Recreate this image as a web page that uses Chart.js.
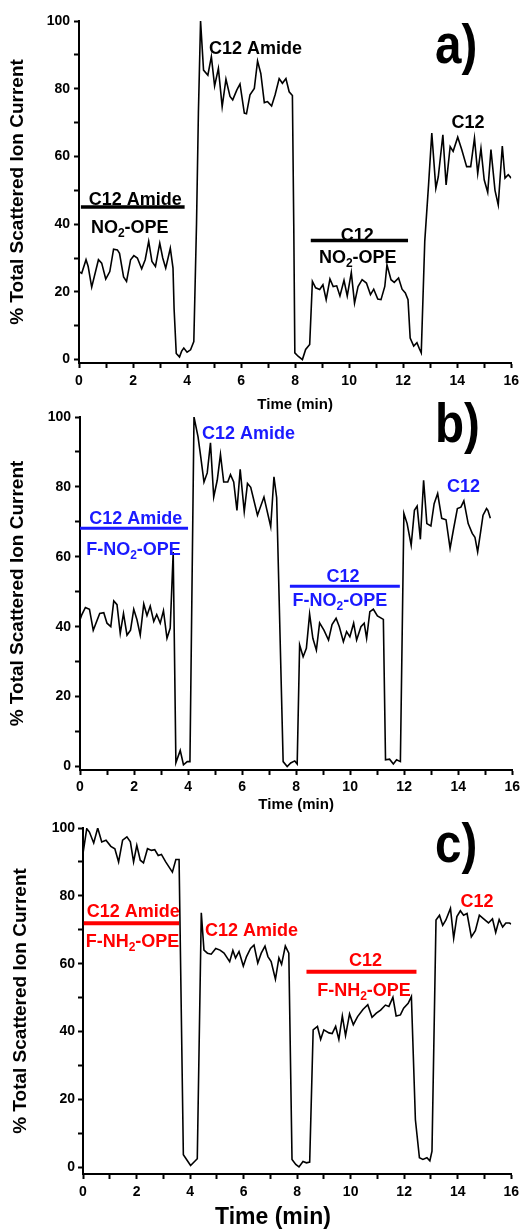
<!DOCTYPE html>
<html lang="en">
<head>
<meta charset="UTF-8">
<title>% Total Scattered Ion Current vs Time</title>
<script src="https://cdn.jsdelivr.net/npm/chart.js@4.4.1/dist/chart.umd.min.js"></script>
<style>
  html, body { margin: 0; padding: 0; background: #fff; }
  #page { position: relative; width: 524px; height: 1230px; overflow: hidden; }
  #page canvas { position: absolute; left: 0; }
</style>
</head>
<body>
<div id="page">
  <canvas id="chartA"></canvas>
  <canvas id="chartB"></canvas>
  <canvas id="chartC"></canvas>
</div>

<script>
// ---- values: time (min) / % total scattered ion current ----
var timeA = [0, 0.10, 0.26, 0.34, 0.47, 0.72, 0.84, 0.99, 1.14, 1.28, 1.42, 1.50, 1.65, 1.76, 1.91, 2.03, 2.16, 2.32,
  2.45, 2.58, 2.70, 2.83, 2.99, 3.10, 3.21, 3.38, 3.48, 3.52, 3.60, 3.72, 3.80, 3.88, 4.00, 4.13, 4.25, 4.35, 4.42,
  4.50, 4.61, 4.77, 4.90, 5.02, 5.16, 5.30, 5.44, 5.59, 5.69, 5.84, 5.96, 6.12, 6.20, 6.33, 6.49, 6.61, 6.73, 6.86,
  6.98, 7.13, 7.26, 7.41, 7.53, 7.66, 7.78, 7.90, 7.95, 7.99, 8.11, 8.27, 8.39, 8.54, 8.64, 8.76, 8.91, 9.03, 9.15,
  9.29, 9.41, 9.54, 9.66, 9.81, 9.93, 10.08, 10.20, 10.33, 10.48, 10.64, 10.79, 10.91, 11.06, 11.18, 11.32, 11.40,
  11.55, 11.67, 11.83, 11.96, 12.08, 12.18, 12.26, 12.39, 12.51, 12.60, 12.67, 12.80, 12.94, 13.06, 13.21, 13.30,
  13.47, 13.59, 13.74, 13.85, 14.02, 14.17, 14.35, 14.50, 14.64, 14.76, 14.88, 15.00, 15.13, 15.25, 15.40, 15.52,
  15.67, 15.77, 15.89, 16.00];
var signalA = [26.0, 25.5, 29.5, 27.5, 21.4, 29.5, 28.5, 23.8, 26.0, 32.6, 32.4, 31.4, 24.4, 23.1, 29.5, 30.7, 30.0, 26.8,
  29.5, 34.9, 29.0, 27.5, 34.4, 30.0, 27.0, 32.9, 27.0, 15.0, 1.8, 0.8, 2.5, 3.4, 2.2, 2.9, 5.3, 40.0, 72.8,
  100, 85.5, 84.0, 89.5, 80.8, 86.0, 74.7, 82.8, 77.7, 76.7, 79.6, 81.4, 72.8, 72.6, 78.2, 80.1, 88.2, 84.5, 75.9,
  76.2, 74.9, 78.2, 83.0, 81.6, 83.0, 79.1, 78.0, 40.0, 2.0, 1.0, 0.0, 3.0, 4.5, 23.1, 21.2, 20.7, 22.1, 17.7,
  23.8, 21.6, 21.8, 18.8, 23.4, 18.8, 25.7, 16.7, 21.6, 23.6, 22.6, 19.2, 20.8, 17.9, 17.7, 21.6, 28.0,
  23.6, 22.8, 24.1, 20.8, 19.7, 17.7, 6.4, 4.0, 5.0, 3.2, 2.0, 35.0, 51.6, 66.9, 50.6, 54.0,
  66.4, 51.6, 62.9, 61.5, 65.7, 62.0, 57.0, 57.0, 65.4, 55.0, 62.4, 53.1, 49.4, 62.0, 50.0, 45.7,
  63.1, 53.6, 54.6, 53.6];

var timeB = [0, 0.06, 0.20, 0.35, 0.49, 0.73, 0.88, 1.00, 1.14, 1.25, 1.37, 1.49, 1.61, 1.74, 1.87, 1.99, 2.11, 2.23,
  2.36, 2.48, 2.60, 2.73, 2.84, 2.97, 3.09, 3.22, 3.34, 3.45, 3.55, 3.71, 3.83, 3.97, 4.07, 4.22, 4.37, 4.47, 4.59,
  4.71, 4.83, 4.95, 5.08, 5.20, 5.32, 5.47, 5.57, 5.69, 5.81, 5.93, 6.08, 6.20, 6.32, 6.57, 6.81, 7.06, 7.18, 7.28,
  7.52, 7.67, 7.80, 7.95, 8.04, 8.13, 8.26, 8.38, 8.50, 8.62, 8.75, 8.87, 9.03, 9.20, 9.33, 9.48, 9.60, 9.75, 9.87,
  9.99, 10.13, 10.24, 10.40, 10.52, 10.61, 10.73, 10.86, 11.01, 11.23, 11.31, 11.46, 11.60, 11.72, 11.86, 11.99,
  12.11, 12.26, 12.38, 12.48, 12.60, 12.72, 12.84, 12.99, 13.11, 13.24, 13.39, 13.55, 13.70, 13.82, 13.97, 14.10,
  14.21, 14.37, 14.52, 14.62, 14.72, 14.84, 14.92, 15.05, 15.10, 15.19];
var signalB = [42.0, 43.3, 45.5, 45.0, 39.0, 43.8, 44.0, 41.0, 40.0, 47.4, 46.3, 38.1, 43.8, 37.6, 39.0, 45.0, 42.0, 37.6,
  46.5, 43.2, 45.9, 41.5, 43.5, 41.0, 44.6, 36.7, 39.6, 61.4, 1.1, 4.6, 0.5, 1.4, 1.4, 100, 94.3, 88.6, 81.4,
  84.0, 92.6, 77.1, 81.9, 89.3, 81.4, 81.4, 83.5, 81.4, 73.3, 85.0, 72.9, 81.0, 79.9, 71.9, 77.1, 68.6, 82.9, 76.9,
  1.4, 0.0, 1.0, 1.6, 0.7, 34.8, 31.4, 33.8, 43.6, 36.7, 33.3, 41.1, 39.0, 36.2, 40.6, 42.4, 40.0, 35.7, 38.6,
  37.1, 41.0, 36.2, 40.0, 41.0, 36.7, 44.3, 45.0, 43.1, 42.1, 1.9, 2.1, 0.7, 1.9, 1.4, 72.4,
  69.5, 63.3, 73.3, 74.5, 65.0, 81.9, 69.5, 68.8, 75.2, 78.1, 71.0, 70.6, 62.4, 67.6, 73.8, 74.2,
  76.0, 69.5, 66.7, 65.6, 61.4, 67.6, 71.9, 73.8, 73.3, 71.0];

var timeC = [0, 0.14, 0.24, 0.40, 0.55, 0.70, 0.86, 1.04, 1.19, 1.33, 1.48, 1.64, 1.77, 1.89, 2.01, 2.14, 2.26, 2.41,
  2.56, 2.68, 2.81, 2.93, 3.09, 3.34, 3.47, 3.59, 3.75, 4.02, 4.27, 4.42, 4.52, 4.65, 4.79, 4.96, 5.12, 5.27, 5.48,
  5.60, 5.70, 5.83, 5.99, 6.11, 6.26, 6.39, 6.53, 6.66, 6.80, 6.91, 7.03, 7.19, 7.32, 7.42, 7.56, 7.69, 7.81, 7.95,
  8.07, 8.22, 8.35, 8.47, 8.60, 8.76, 8.88, 9.00, 9.19, 9.31, 9.44, 9.56, 9.69, 9.81, 9.96, 10.10, 10.26, 10.46,
  10.64, 10.80, 10.96, 11.12, 11.30, 11.43, 11.58, 11.70, 11.86, 11.98, 12.15, 12.27, 12.42, 12.57, 12.70, 12.85,
  12.96, 13.04, 13.19, 13.32, 13.44, 13.56, 13.73, 13.85, 13.97, 14.10, 14.22, 14.35, 14.51, 14.66, 14.81, 14.97,
  15.15, 15.30, 15.42, 15.55, 15.68, 15.80, 15.93, 16.00];
var signalC = [92.5, 99.8, 98.8, 95.6, 100, 95.9, 96.4, 94.6, 93.9, 90.0, 96.4, 97.4, 95.9, 90.0, 94.9, 90.5, 89.7, 93.9,
  93.4, 93.6, 91.9, 92.2, 90.0, 87.0, 90.7, 90.7, 3.7, 0.5, 2.5, 75.0, 64.0, 63.1, 62.8, 64.5, 64.0, 63.1, 60.6,
  63.9, 61.7, 63.6, 59.3, 62.1, 64.5, 65.5, 60.2, 63.1, 65.2, 62.1, 60.6, 55.4, 61.7, 59.8, 65.2, 63.1, 2.3, 0.8,
  0.1, 1.7, 1.3, 1.5, 40.5, 41.5, 37.7, 40.5, 39.6, 39.4, 41.5, 37.7, 44.6, 38.8, 45.2, 42.0, 44.4, 46.5,
  47.9, 44.2, 45.4, 46.3, 47.8, 47.4, 50.1, 44.6, 44.9, 46.9, 48.3, 50.3, 14.0, 2.8, 2.3, 2.8,
  1.9, 4.7, 72.9, 74.3, 71.3, 72.9, 76.3, 67.5, 73.9, 75.6, 74.3, 74.8, 67.9, 69.7, 74.3, 73.2,
  72.0, 73.2, 69.2, 73.0, 70.8, 72.0, 72.0, 71.7];

var xTicks = [0, 1, 2, 3, 4, 5, 6, 7, 8, 9, 10, 11, 12, 13, 14, 15, 16];
var xLabelStep = 2;
var yTicks = [0, 10, 20, 30, 40, 50, 60, 70, 80, 90, 100];
var yLabelStep = 20;

var FONT = '"Liberation Sans", Arial, Helvetica, sans-serif';
Chart.defaults.font.family = FONT;
Chart.defaults.font.weight = 'bold';
Chart.defaults.color = '#000';

// annotations: sample segments (time in min, % current) per panel
var panels = [
  { id: 'chartA', time: timeA, signal: signalA, top: 0, height: 415,
    area: { left: 79, right: 513, top: 21, bottom: 363 }, yMin: -1,
    tickPad: { x: 5, y: 4 }, yTitlePad: 6,
    xTitle: 'chart', letter: { text: 'a)', x: 435, y: 63 },
    notes: { color: '#000', barWidth: 3.5,
      bars: [ { from: 0.07, to: 3.91, at: 45.1 }, { from: 8.58, to: 12.18, at: 35.2 } ],
      labels: [ { text: 'C12 Amide', x: 6.53, y: 92.3 }, { text: 'C12 Amide', x: 2.08, y: 47.7 },
                { text: 'NO₂-OPE', x: 1.88, y: 39.4 }, { text: 'C12', x: 10.3, y: 37.0 },
                { text: 'NO₂-OPE', x: 10.32, y: 30.3 }, { text: 'C12', x: 14.4, y: 70.3 } ] } },
  { id: 'chartB', time: timeB, signal: signalB, top: 395, height: 420,
    area: { left: 80, right: 516, top: 22, bottom: 375 }, yMin: -1,
    tickPad: { x: 4, y: 4 }, yTitlePad: 6,
    xTitle: 'chart', letter: { text: 'b)', x: 435, y: 47 },
    notes: { color: '#1a1aff', barWidth: 3,
      bars: [ { from: 0, to: 4.0, at: 68.2 }, { from: 7.77, to: 11.84, at: 51.6 } ],
      labels: [ { text: 'C12 Amide', x: 6.24, y: 95.6 }, { text: 'C12 Amide', x: 2.06, y: 71.3 },
                { text: 'F-NO₂-OPE', x: 1.98, y: 62.4 }, { text: 'C12', x: 9.74, y: 54.7 },
                { text: 'F-NO₂-OPE', x: 9.62, y: 47.7 }, { text: 'C12', x: 14.2, y: 80.5 } ] } },
  { id: 'chartC', time: timeC, signal: signalC, top: 805, height: 425,
    area: { left: 83, right: 513, top: 23, bottom: 369 }, yMin: -2,
    tickPad: { x: 5, y: 3 }, yTitlePad: 9,
    xTitle: 'big', letter: { text: 'c)', x: 435, y: 57 },
    notes: { color: '#ff0000', barWidth: 4,
      bars: [ { from: 0.03, to: 3.59, at: 71.9 }, { from: 8.35, to: 12.46, at: 57.6 } ],
      labels: [ { text: 'C12 Amide', x: 1.88, y: 75.6 }, { text: 'F-NH₂-OPE', x: 1.85, y: 66.7 },
                { text: 'C12 Amide', x: 6.3, y: 70.0 }, { text: 'C12', x: 10.56, y: 61.1 },
                { text: 'F-NH₂-OPE', x: 10.5, y: 52.4 }, { text: 'C12', x: 14.72, y: 78.7 } ] } }
];

// text centred on (cx, cy); "₂" is set as a real subscript 2
function drawLabel(ctx, text, cx, cy, size) {
  var big = 'bold ' + size + 'px ' + FONT;
  var small = 'bold ' + Math.round(size * 0.65) + 'px ' + FONT;
  var segs = [];
  text.split('₂').forEach(function (s, i) {
    if (i > 0) segs.push({ t: '2', sub: true });
    if (s) segs.push({ t: s, sub: false });
  });
  var w = 0;
  segs.forEach(function (s) {
    ctx.font = s.sub ? small : big;
    s.w = ctx.measureText(s.t).width;
    w += s.w;
  });
  var x = cx - w / 2;
  var base = cy + size * 0.36;
  ctx.textAlign = 'left';
  ctx.textBaseline = 'alphabetic';
  segs.forEach(function (s) {
    ctx.font = s.sub ? small : big;
    ctx.fillText(s.t, x, s.sub ? base + size * 0.22 : base);
    x += s.w;
  });
}

function notesPlugin(p) {
  return {
    id: 'panelNotes',
    afterDraw: function (chart) {
      var ctx = chart.ctx, xs = chart.scales.x, ys = chart.scales.y, n = p.notes;
      ctx.save();
      ctx.strokeStyle = n.color;
      ctx.fillStyle = n.color;
      ctx.lineWidth = n.barWidth;
      n.bars.forEach(function (b) {
        var yy = ys.getPixelForValue(b.at);
        ctx.beginPath();
        ctx.moveTo(xs.getPixelForValue(b.from), yy);
        ctx.lineTo(xs.getPixelForValue(b.to), yy);
        ctx.stroke();
      });
      n.labels.forEach(function (l) {
        drawLabel(ctx, l.text, xs.getPixelForValue(l.x), ys.getPixelForValue(l.y), 18);
      });
      // panel letter
      ctx.fillStyle = '#000';
      ctx.font = 'bold 56px ' + FONT;
      ctx.textAlign = 'left';
      ctx.textBaseline = 'alphabetic';
      ctx.save();
      ctx.translate(p.letter.x, p.letter.y);
      ctx.scale(0.85, 1);
      ctx.fillText(p.letter.text, 0, 0);
      ctx.restore();
      if (p.xTitle === 'big') {
        ctx.font = 'bold 23px ' + FONT;
        ctx.fillText('Time (min)', 215, 419);
      }
      ctx.restore();
    }
  };
}

function buildChart(p) {
  var canvas = document.getElementById(p.id);
  canvas.width = 524;
  canvas.height = p.height;
  canvas.style.top = p.top + 'px';
  var points = p.time.map(function (t, i) { return { x: t, y: p.signal[i] }; });

  return new Chart(canvas.getContext('2d'), {
    type: 'line',
    data: {
      datasets: [{
        data: points,
        borderColor: '#000',
        borderWidth: 1.6,
        pointRadius: 0,
        tension: 0,
        fill: false
      }]
    },
    options: {
      responsive: false,
      animation: false,
      events: [],
      layout: {
        autoPadding: false,
        padding: { top: p.area.top, right: 524 - p.area.right, left: 0, bottom: 0 }
      },
      plugins: { legend: { display: false }, tooltip: { enabled: false } },
      scales: {
        x: {
          type: 'linear',
          min: 0,
          max: 16,
          afterBuildTicks: function (s) { s.ticks = xTicks.map(function (v) { return { value: v }; }); },
          afterFit: function (s) { s.height = p.height - p.area.bottom; },
          ticks: {
            autoSkip: false,
            maxRotation: 0,
            padding: p.tickPad.x,
            font: { size: 14, weight: 'bold' },
            callback: function (v) { return v % xLabelStep === 0 ? v : ''; }
          },
          grid: { drawOnChartArea: false, tickLength: 5, tickColor: '#000', tickWidth: 2 },
          border: { display: true, color: '#000', width: 2 },
          title: {
            display: p.xTitle === 'chart',
            text: 'Time (min)',
            font: { size: 15, weight: 'bold' },
            padding: { top: 0, bottom: 1 }
          }
        },
        y: {
          type: 'linear',
          min: p.yMin,
          max: 100,
          afterBuildTicks: function (s) { s.ticks = yTicks.map(function (v) { return { value: v }; }); },
          afterFit: function (s) { s.width = p.area.left; },
          ticks: {
            autoSkip: false,
            padding: p.tickPad.y,
            font: { size: 14, weight: 'bold' },
            callback: function (v) { return v % yLabelStep === 0 ? v : ''; }
          },
          grid: { drawOnChartArea: false, tickLength: 5, tickColor: '#000', tickWidth: 2 },
          border: { display: true, color: '#000', width: 2 },
          title: {
            display: true,
            text: '% Total Scattered Ion Current',
            font: { size: 19, weight: 'bold' },
            padding: { top: p.yTitlePad, bottom: 0 }
          }
        }
      }
    },
    plugins: [notesPlugin(p)]
  });
}

panels.forEach(buildChart);
</script>
</body>
</html>
